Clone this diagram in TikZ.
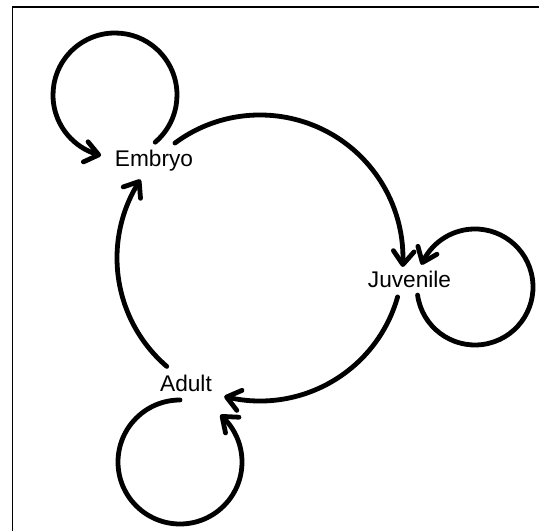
\documentclass[tikz,border=0pt]{standalone}
\usepackage{fontspec}
\setmainfont{Liberation Sans}
\usetikzlibrary{arrows.meta,calc,bending}
\begin{document}
\begin{tikzpicture}[x=0.75pt,y=0.75pt,
  stage/.style={font=\fontsize{17}{20}\selectfont, anchor=base, inner sep=0pt},
  link/.style={line width=3.6pt, line cap=round, line join=round,
    -{Straight Barb[length=10pt,width=15.5pt,round]}},
  frameline/.style={line width=1.3pt}]
\useasboundingbox (0,0) rectangle (539,531);
% partial frame
\coordinate (fa) at (539,524);
\coordinate (fb) at (12.5,524);
\coordinate (fc) at (12.5,0);
\draw[frameline] (fa) -- (fb) -- (fc);

% life stages
\node[stage] (embryo) at (154,364) {Embryo};
\node[stage] (juvenile) at (409.5,243) {Juvenile};
\node[stage] (adult) at (186,139) {Adult};

% start points of the transitions (big cycle centred at (260,273), r=143)
\coordinate (cyc) at (260,273);
\coordinate (eOut) at ($(cyc)+(126.5:143)$);
\coordinate (jOut) at ($(cyc)+(-15.8:143)$);
\coordinate (aOut) at ($(cyc)+(-130.7:143)$);

% cycle
\draw[link] (eOut) arc[start angle=126.5, end angle=-3.6, radius=143];
\draw[link] (jOut) arc[start angle=-15.8, end angle=-104.5, radius=143];
\draw[link] (aOut) arc[start angle=-130.7, end angle=-213.3, radius=143];

% self loops
\coordinate (eLoop) at ($(115,436)+(-49.6:62)$);
\coordinate (jLoop) at ($(475,244)+(-172:58)$);
\coordinate (aLoop) at ($(180,69)+(90:62)$);
\draw[link] (eLoop) arc[start angle=-49.6, end angle=257, radius=62];
\draw[link] (jLoop) arc[start angle=-172, end angle=157.5, radius=58];
\draw[link] (aLoop) arc[start angle=90, end angle=409.5, radius=62];
\end{tikzpicture}
\end{document}
